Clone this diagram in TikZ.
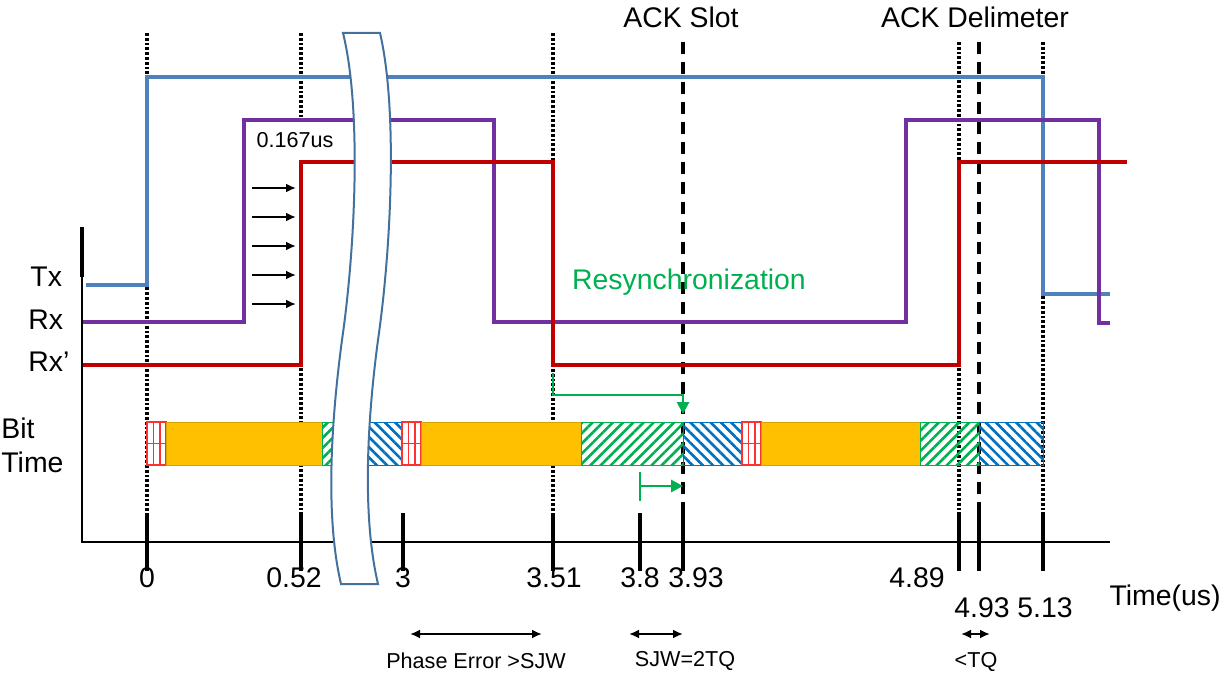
\documentclass[tikz,border=0pt]{standalone}
\usepackage{fontspec}
\setmainfont{Liberation Sans}
\usetikzlibrary{arrows.meta,patterns.meta}

\definecolor{txblue}{HTML}{4F81BD}
\definecolor{rxpurple}{HTML}{7030A0}
\definecolor{rxred}{HTML}{C00000}
\definecolor{segorange}{HTML}{FFC000}
\definecolor{seggreen}{HTML}{00B050}
\definecolor{segblue}{HTML}{0070C0}
\definecolor{segred}{HTML}{FF3030}
\definecolor{breakblue}{HTML}{41719C}

% sync segment of the bit time bar
\newcommand\syncbox[1]{%
  \draw[syncseg] (#1,422) rectangle ++(19,43);
  \draw[syncseg] (#1+6.5,422) -- ++(0,43) (#1+13,422) -- ++(0,43) (#1,443.5) -- ++(19,0);}

\begin{document}
\begin{tikzpicture}[x=0.5pt,y=-0.5pt,
    sig/.style={line width=1.7pt},
    dotguide/.style={line width=1.6pt, dash pattern=on 1.4pt off 1pt},
    dashguide/.style={line width=1.6pt, dash pattern=on 6pt off 4pt},
    tickmark/.style={line width=1.6pt},
    lblbig/.style={font=\fontsize{14.2}{16}\selectfont, inner sep=0pt},
    lblsmall/.style={font=\fontsize{10.8}{13}\selectfont, inner sep=0pt},
    syncseg/.style={draw=segred, fill=white, line width=0.55pt},
    propseg/.style={fill=segorange, draw=segorange!85!black, line width=0.3pt},
    phaseone/.style={draw=seggreen, line width=0.5pt, pattern color=seggreen,
        pattern={Lines[angle=45, distance=3.6pt, line width=1.3pt]}},
    phasetwo/.style={draw=segblue, line width=0.5pt, pattern color=segblue,
        pattern={Lines[angle=-45, distance=3.6pt, line width=1.3pt]}},
    steparrow/.style={-{Latex[length=5pt, width=4.5pt]}, line width=1.1pt},
    spanarrow/.style={{Latex[length=5pt, width=4.5pt]}-{Latex[length=5pt, width=4.5pt]}, line width=1.2pt},
    resync/.style={draw=seggreen, line width=1.4pt},
]
\useasboundingbox (0,0) rectangle (1230,679);

% guide lines
\draw[dotguide] (301,33) -- (301,118);
\foreach \t in {147,553} \draw[dotguide] (\t,33) -- (\t,513);
\foreach \t in {959,1043} \draw[dotguide] (\t,42) -- (\t,513);
\foreach \t in {683,979} \draw[dashguide] (\t,42) -- (\t,513);
\draw[dotguide] (301,162) -- (301,513);

% signals
\draw[sig, txblue] (86,285) -- (147,285) -- (147,77) -- (1043,77) -- (1043,294) -- (1110,294);
\draw[sig, rxpurple] (82,322) -- (244,322) -- (244,120) -- (494,120) -- (494,322)
    -- (906,322) -- (906,120) -- (1099,120) -- (1099,323) -- (1110,323);
\draw[sig, rxred] (82,365) -- (301,365) -- (301,162) -- (553,162) -- (553,365)
    -- (959,365) -- (959,162) -- (1127,162);

% bit time bar
\syncbox{147}
\path[propseg] (166,422) rectangle (322,465);
\path[phaseone] (322,422) rectangle (352,465);
\path[phasetwo] (358,422) rectangle (402,465);
\syncbox{402}
\path[propseg] (421,422) rectangle (581,465);
\path[phaseone] (581,422) rectangle (683,465);
\path[phasetwo] (683,422) rectangle (742,465);
\syncbox{742}
\path[propseg] (761,422) rectangle (920,465);
\path[phaseone] (920,422) rectangle (979,465);
\path[phasetwo] (979,422) rectangle (1043,465);

% axes
\draw[line width=2pt] (82,227) -- (82,277);
\draw[line width=0.9pt] (82,277) -- (82,542) -- (1110,542);
\foreach \t in {147,301,403,553,640,683,959,979,1043} \draw[tickmark] (\t,513) -- (\t,571);

% 0.167us steps
\foreach \y in {188,217,246,275,304} \draw[steparrow] (252,\y) -- (296,\y);

% resynchronization
\draw[resync, -{Triangle[length=6pt, width=6pt]}] (553,373) -- (553,395) -- (683,395) -- (683,414);
\draw[resync] (640,472) -- (640,501);
\draw[resync, -{Triangle[length=6pt, width=6pt]}] (640,486) -- (683,486);

% break
\draw[draw=breakblue, fill=white, line width=1pt]
    (343,33) .. controls (362,110) and (355,250) .. (342,340)
    .. controls (330,430) and (326,520) .. (341,584)
    -- (378,584) .. controls (363,520) and (366,430) .. (378,340)
    .. controls (391,250) and (398,110) .. (380,33) -- cycle;

% labels
\node[lblbig] (ackslot) at (681,17) {ACK Slot};
\node[lblbig] (ackdelim) at (975,17) {ACK Delimeter};
\node[lblbig, anchor=west] (tx) at (30,277) {Tx};
\node[lblbig, anchor=west] (rx) at (28,320) {Rx};
\node[lblbig, anchor=west] (rxp) at (28,362) {Rx’};
\node[lblbig, anchor=west, align=left] (bittime) at (1,445) {Bit\\[1pt]Time};
\node[lblsmall] (steplbl) at (295,140) {0.167us};
\node[lblbig, text=seggreen] (resynclbl) at (689,282) {Resynchronization};

\node[lblbig] (t0) at (147,578) {0};
\node[lblbig] (t052) at (294,578) {0.52};
\node[lblbig] (t3) at (403,578) {3};
\node[lblbig] (t351) at (554,578) {3.51};
\node[lblbig] (t38) at (640,578) {3.8};
\node[lblbig] (t393) at (696,578) {3.93};
\node[lblbig] (t489) at (917,578) {4.89};
\node[lblbig] (t493) at (982,608) {4.93};
\node[lblbig] (t513) at (1045,608) {5.13};
\node[lblbig] (timeunit) at (1165,598) {Time(us)};

% phase error spans
\draw[spanarrow] (410,634) -- (542,634);
\node[lblsmall] (pherr) at (476,661) {Phase Error >SJW};
\draw[spanarrow] (629,634) -- (683,634);
\node[lblsmall] (sjw) at (685,661) {SJW=2TQ};
\draw[spanarrow] (961,634) -- (990,634);
\node[lblsmall] (ltq) at (976,662) {<TQ};
\end{tikzpicture}
\end{document}
